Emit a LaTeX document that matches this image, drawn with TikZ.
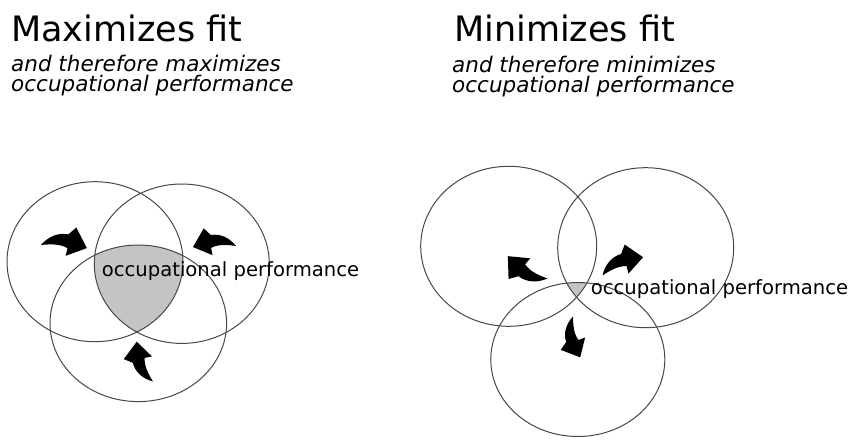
\documentclass[tikz,border=0pt]{standalone}
\usepackage{fontspec}
\setmainfont{DejaVu Sans}[ItalicFont={DejaVu Sans Oblique}]
\begin{document}
\begin{tikzpicture}[x=1pt,y=1pt,
  ring/.style={draw=black!72,line width=1pt},
  shade/.style={fill=black!23},
  titletext/.style={anchor=base west,inner sep=0pt,font=\fontsize{35}{40}\selectfont},
  subtext/.style={anchor=base west,inner sep=0pt,font=\fontsize{21.5}{20}\selectfont\itshape},
  labeltext/.style={anchor=base west,inner sep=0pt,font=\fontsize{19.6}{22}\selectfont},
  swoosh/.pic={\fill[black] (0,0) .. controls (0.15,0.2) and (0.36,0.3) .. (0.58,0.27)
     -- (0.74,0.43) -- (1,0) -- (0.55,-0.2) -- (0.58,-0.03)
     .. controls (0.4,0.06) and (0.18,0.03) .. (0,0) -- cycle;}
]
\useasboundingbox (0,0) rectangle (851,439);

% ---------- left diagram ----------
\begin{scope}
  \clip (95,177.3) ellipse [x radius=88, y radius=80];
  \clip (181.8,175.3) ellipse [x radius=87.5, y radius=79.7];
  \fill[shade] (138.3,115.7) ellipse [x radius=88.3, y radius=78.3];
\end{scope}
\draw[ring] (95,177.3) ellipse [x radius=88, y radius=80];
\draw[ring] (181.8,175.3) ellipse [x radius=87.5, y radius=79.7];
\draw[ring] (138.3,115.7) ellipse [x radius=88.3, y radius=78.3];

\pic[rotate=-3.8, scale=46] at (41,194) {swoosh};
\pic[rotate=181.4, yscale=-1, scale=43] at (236,193) {swoosh};
\pic[rotate=112.3, scale=43] at (153,57.5) {swoosh};

\node[labeltext] (labL) at (101.7,162) {occupational performance};

% ---------- right diagram ----------
\begin{scope}
  \clip (508.7,192.7) ellipse [x radius=88, y radius=80];
  \clip (645.7,191.3) ellipse [x radius=88, y radius=80];
  \fill[shade] (577.8,79.5) ellipse [x radius=87, y radius=77];
\end{scope}
\draw[ring] (508.7,192.7) ellipse [x radius=88, y radius=80];
\draw[ring] (645.7,191.3) ellipse [x radius=88, y radius=80];
\draw[ring] (577.8,79.5) ellipse [x radius=87, y radius=77];

\pic[rotate=150.6, scale=45.5] at (547.5,160.5) {swoosh};
\pic[rotate=24.2, scale=44.5] at (602.5,163.5) {swoosh};
\pic[rotate=-80, yscale=-1, scale=41.5] at (573,122.5) {swoosh};

\node[labeltext] (labR) at (590.7,144.5) {occupational performance};

% ---------- titles ----------
\node[titletext] (titleL) at (11,397) {Maximizes fit};
\node[subtext] (subLa) at (11,367) {and therefore maximizes};
\node[subtext] (subLb) at (11,347) {occupational performance};

\node[titletext] (titleR) at (454,397) {Minimizes fit};
\node[subtext] (subRa) at (452,366.3) {and therefore minimizes};
\node[subtext] (subRb) at (452,346.3) {occupational performance};
\end{tikzpicture}
\end{document}
